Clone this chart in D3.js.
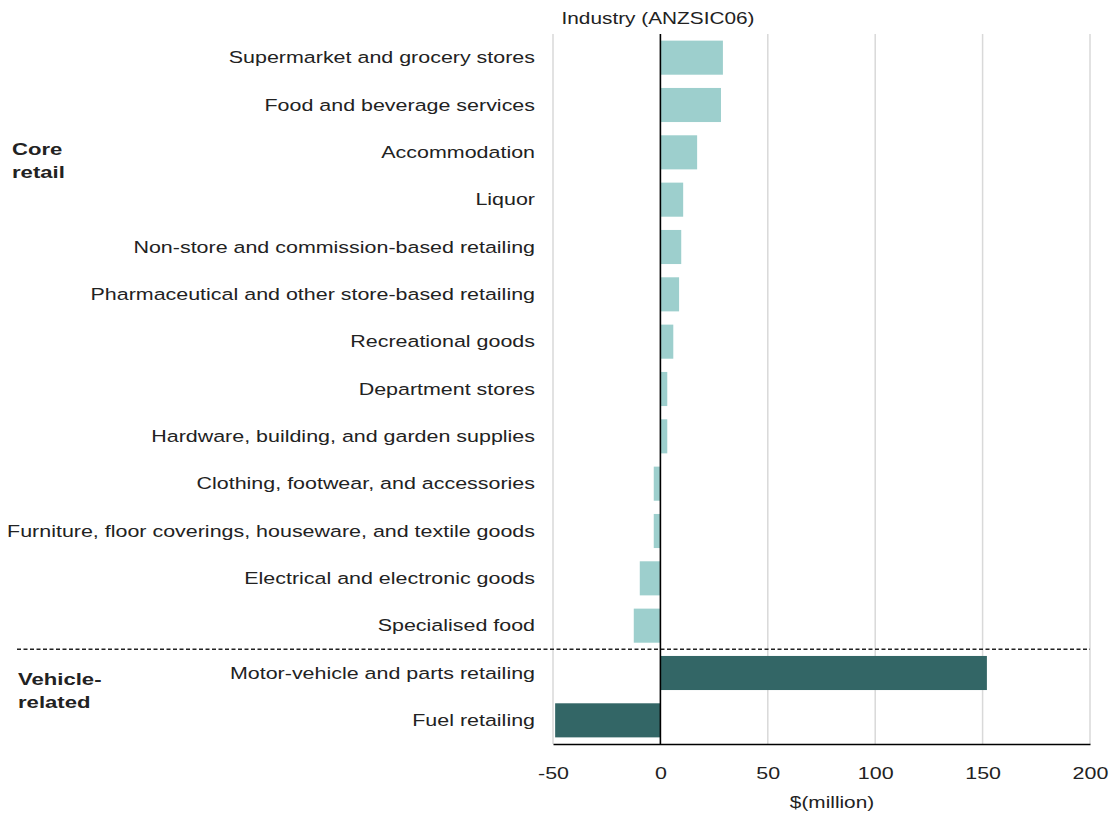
<!DOCTYPE html>
<html>
<head>
<meta charset="utf-8">
<script src="https://cdn.jsdelivr.net/npm/d3@7"></script>
<style>
  html, body { margin: 0; padding: 0; background: #ffffff; }
  svg { display: block; font-family: "Liberation Sans", Arial, sans-serif; }
</style>
</head>
<body>
<svg id="chart" width="1112" height="816"></svg>
<script>
// Industries, top to bottom
const industries = [
  "Supermarket and grocery stores",
  "Food and beverage services",
  "Accommodation",
  "Liquor",
  "Non-store and commission-based retailing",
  "Pharmaceutical and other store-based retailing",
  "Recreational goods",
  "Department stores",
  "Hardware, building, and garden supplies",
  "Clothing, footwear, and accessories",
  "Furniture, floor coverings, houseware, and textile goods",
  "Electrical and electronic goods",
  "Specialised food",
  "Motor-vehicle and parts retailing",
  "Fuel retailing"
];
// Change in spending, $(million)
const values = [29.1, 28.2, 17.1, 10.6, 9.7, 8.7, 6.0, 3.2, 3.2, -3.1, -3.1, -9.6, -12.4, 152, -49];
// Group each industry belongs to
const groups = ["core","core","core","core","core","core","core","core","core","core","core","core","core","vehicle","vehicle"];
const groupNames = { core: ["Core", "retail"], vehicle: ["Vehicle-", "related"] };
const xTicks = [-50, 0, 50, 100, 150, 200];

const colors = { core: "#9dcfcd", vehicle: "#336666" };
const textColor = "#222";
const stretch = 1.3; // horizontal widening of the lettering

const svg = d3.select("#chart");
const plotLeft = 553, plotRight = 1090, plotTop = 34, plotBottom = 744;

const x = d3.scaleLinear().domain([-50, 200]).range([plotLeft, plotRight]);
const y = d3.scaleBand().domain(industries).range([plotTop, plotBottom]).paddingInner(0.28).paddingOuter(0.14);

// place a text element at (px, py) with widened glyphs
function widen(sel, px, py) {
  sel.attr("transform", (d, i) => {
    const tx = typeof px === "function" ? px(d, i) : px;
    const ty = typeof py === "function" ? py(d, i) : py;
    return `translate(${tx},${ty}) scale(${stretch},1)`;
  });
}

// vertical gridlines
svg.append("g")
  .selectAll("line")
  .data(xTicks.filter(t => t !== 0))
  .join("line")
  .attr("x1", d => x(d)).attr("x2", d => x(d))
  .attr("y1", plotTop).attr("y2", plotBottom)
  .attr("stroke", "#d9d9d9").attr("stroke-width", 1.5);

// bars
svg.append("g")
  .selectAll("rect")
  .data(industries)
  .join("rect")
  .attr("x", (d, i) => x(Math.min(0, values[i])))
  .attr("width", (d, i) => Math.abs(x(values[i]) - x(0)))
  .attr("y", d => y(d))
  .attr("height", y.bandwidth())
  .attr("fill", (d, i) => colors[groups[i]]);

// group divider
const firstVehicle = industries[groups.indexOf("vehicle")];
const lastCore = industries[groups.indexOf("vehicle") - 1];
const divY = (y(lastCore) + y.bandwidth() + y(firstVehicle)) / 2;
svg.append("line")
  .attr("x1", 17).attr("x2", plotRight)
  .attr("y1", divY).attr("y2", divY)
  .attr("stroke", "#222").attr("stroke-width", 1.5)
  .attr("stroke-dasharray", "4,2.5");

// zero line
svg.append("line")
  .attr("x1", x(0)).attr("x2", x(0))
  .attr("y1", plotTop).attr("y2", plotBottom)
  .attr("stroke", "#000").attr("stroke-width", 1.6);

// x axis
const xAxis = svg.append("g")
  .attr("transform", `translate(0,${plotBottom})`)
  .call(d3.axisBottom(x).tickValues(xTicks).tickSize(0).tickFormat(d => String(d)));
xAxis.select(".domain").attr("stroke", "#000").attr("stroke-width", 1.6);
xAxis.selectAll(".tick text")
  .attr("y", null).attr("dy", null)
  .attr("font-size", 16.5).attr("fill", textColor)
  .attr("font-family", "Liberation Sans, Arial, sans-serif")
  .attr("transform", `translate(0,35) scale(${stretch},1)`);

// category labels
svg.append("g")
  .selectAll("text")
  .data(industries)
  .join("text")
  .attr("dy", "0.35em")
  .attr("text-anchor", "end")
  .attr("font-size", 16.5)
  .attr("fill", textColor)
  .text(d => d)
  .call(widen, 535, d => y(d) + y.bandwidth() / 2);

// group labels
const groupPos = { core: [12, 155], vehicle: [18, 685] };
["core", "vehicle"].forEach(g => {
  const [gx, gy] = groupPos[g];
  svg.append("text")
    .attr("font-size", 17).attr("font-weight", "bold").attr("fill", textColor)
    .call(widen, gx, gy)
    .selectAll("tspan").data(groupNames[g]).join("tspan")
    .attr("x", 0).attr("dy", (d, i) => i === 0 ? 0 : 23.5)
    .text(d => d);
});

// titles
svg.append("text")
  .attr("text-anchor", "middle").attr("font-size", 16).attr("fill", textColor)
  .text("Industry (ANZSIC06)")
  .call(widen, 658, 24);
svg.append("text")
  .attr("text-anchor", "middle").attr("font-size", 16).attr("fill", textColor)
  .text("$(million)")
  .call(widen, 832, 808);
</script>
</body>
</html>
